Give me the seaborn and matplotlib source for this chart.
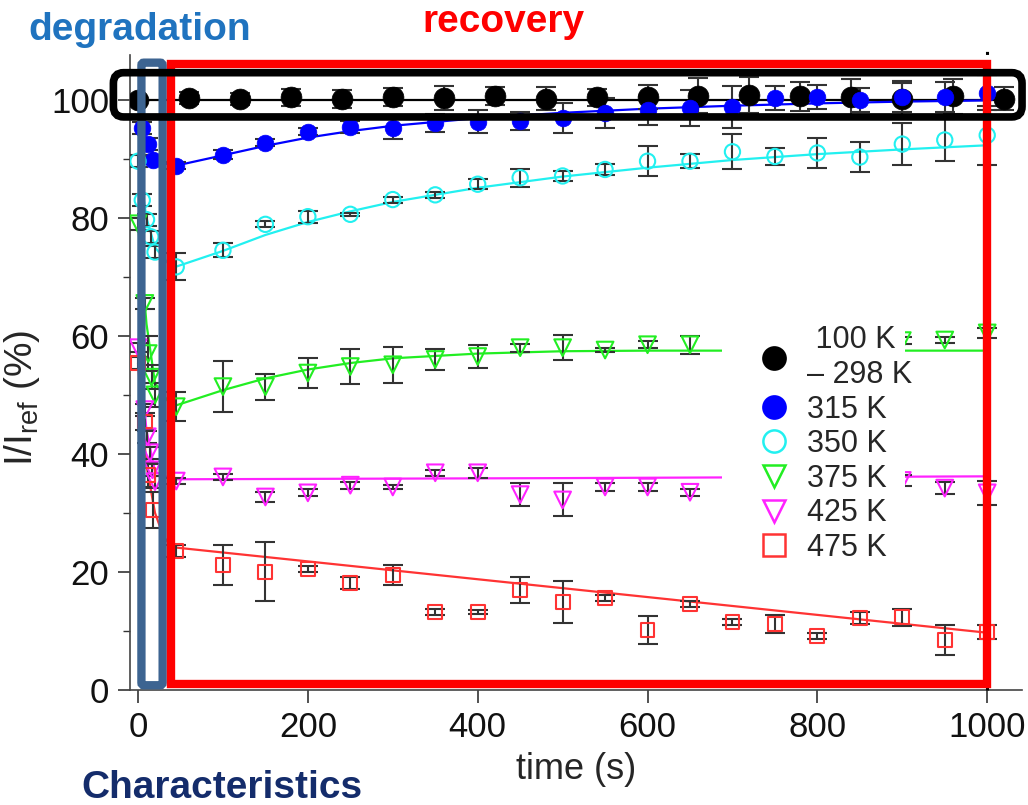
import matplotlib
matplotlib.use("Agg")
import matplotlib.pyplot as plt
import seaborn as sns
from matplotlib.lines import Line2D
from matplotlib.patches import Rectangle, FancyBboxPatch
from matplotlib.ticker import MultipleLocator

# ---- data ----------------------------------------------------------------
t_late = [100, 150, 200, 250, 300, 350, 400, 450, 500, 550,
          600, 650, 700, 750, 800, 850, 900, 950, 1000]

# 100 K - 298 K
t_black = [0, 60, 120, 180, 240, 300, 360, 420, 480, 540,
           600, 660, 720, 780, 840, 900, 960, 1020]
y_black = [100.0, 100.3, 100.2, 100.4, 100.1, 100.5, 100.3, 100.6, 100.2, 100.4,
           100.5, 100.7, 100.8, 100.6, 100.5, 100.2, 100.6, 100.2]
e_black = [0.5, 1.0, 1.0, 1.5, 1.5, 1.5, 2.0, 1.5, 2.0, 1.5,
           2.0, 3.0, 3.0, 2.5, 3.0, 3.0, 3.0, 2.0]

# 315 K
t_315 = [5, 12, 18, 45] + t_late
y_315 = [95.2, 92.5, 89.8, 88.8,
         90.7, 92.7, 94.6, 95.4, 95.3, 96.1, 96.3, 96.4, 96.9, 97.8,
         98.2, 98.6, 98.8, 100.3, 100.5, 100.0, 100.4, 100.5, 101.2]
e_315 = [1.0, 1.0, 0.6, 0.6,
         0.8, 0.6, 0.6, 1.0, 2.0, 1.5, 2.0, 1.5, 2.5, 2.5,
         2.5, 3.0, 3.5, 2.0, 2.0, 2.0, 2.5, 2.5, 3.0]

# 350 K
t_350 = [0, 5, 10, 15, 20, 45] + t_late
y_350 = [89.6, 83.0, 79.7, 76.8, 74.2, 71.7,
         74.5, 78.9, 80.2, 80.6, 83.1, 83.9, 85.7, 86.8, 87.1, 88.2,
         89.6, 89.6, 91.2, 90.4, 91.0, 90.3, 92.5, 93.2, 94.0]
e_350 = [1.0, 1.0, 1.0, 1.0, 1.0, 2.3,
         1.2, 0.5, 1.0, 0.3, 0.5, 0.5, 0.8, 1.5, 0.8, 1.0,
         2.5, 1.2, 3.0, 1.5, 2.5, 2.5, 3.5, 3.5, 5.0]

# 375 K
t_375 = [0, 8, 12, 16, 20, 45] + t_late
y_375 = [79.0, 65.5, 57.0, 53.0, 50.0, 48.0,
         51.4, 51.4, 53.7, 54.8, 55.1, 56.0, 56.5, 58.0, 58.0, 57.6,
         58.5, 58.5, 58.3, 58.5, 58.5, 58.5, 59.2, 59.3, 60.5]
e_375 = [1.0, 1.0, 3.0, 2.0, 2.0, 2.5,
         4.3, 2.2, 2.5, 2.9, 3.1, 1.7, 2.0, 0.7, 2.1, 0.3,
         0.6, 1.5, 0.8, 1.0, 1.0, 1.0, 0.6, 0.5, 0.8]

# 425 K
t_425 = [0, 8, 11, 14, 17, 20, 45] + t_late
y_425 = [58.0, 47.5, 42.9, 40.2, 37.3, 35.3, 35.4,
         36.1, 32.7, 33.4, 34.7, 34.4, 36.8, 36.8, 33.1, 32.2, 34.4,
         34.4, 33.5, 34.5, 35.0, 35.5, 35.0, 35.5, 34.2, 33.4]
e_425 = [0.8, 1.0, 1.0, 1.0, 1.0, 1.0, 0.5,
         0.5, 0.8, 0.6, 0.6, 0.3, 0.5, 0.8, 2.0, 2.8, 0.7,
         0.7, 0.6, 1.5, 1.0, 1.0, 1.0, 1.0, 1.0, 2.0]

# 475 K
t_475 = [0, 8, 12, 18, 45] + t_late
y_475 = [55.4, 45.5, 36.4, 30.5, 23.6,
         21.2, 20.0, 20.5, 18.1, 19.5, 13.2, 13.2, 16.9, 14.9, 15.6,
         10.2, 14.6, 11.5, 11.2, 9.2, 12.2, 12.3, 8.5, 9.8]
e_475 = [1.0, 1.5, 2.0, 3.0, 1.0,
         3.4, 5.0, 0.5, 1.0, 1.7, 0.5, 0.3, 2.2, 3.5, 0.5,
         2.4, 0.5, 0.5, 1.5, 0.5, 1.0, 1.5, 2.5, 1.2]

# fitted curves (read at a few times)
fit_t_black = [0, 1020]
fit_y_black = [99.9, 99.9]
fit_t_315 = [5, 15, 25, 40, 100, 150, 200, 250, 300, 400, 500, 600, 700, 800, 900, 1000]
fit_y_315 = [95.0, 91.5, 89.8, 88.7, 90.6, 92.2, 93.6, 94.7, 95.6, 96.9, 97.8, 98.5, 99.0, 99.4, 99.7, 99.9]
fit_t_350 = [0, 10, 20, 40, 100, 150, 200, 250, 300, 400, 500, 600, 700, 800, 900, 1000]
fit_y_350 = [89.6, 80.0, 75.0, 71.5, 74.4, 77.1, 79.3, 81.1, 82.7, 85.1, 87.0, 88.5, 89.8, 90.8, 91.6, 92.3]
fit_t_375 = [0, 10, 20, 40, 100, 150, 200, 250, 300, 400, 500, 600, 700, 1000]
fit_y_375 = [79.0, 62.0, 52.0, 48.0, 50.8, 52.8, 54.3, 55.4, 56.2, 57.0, 57.4, 57.5, 57.5, 57.5]
fit_t_425 = [0, 10, 20, 40, 500, 1000]
fit_y_425 = [58.0, 44.0, 37.0, 35.7, 35.9, 36.2]
fit_t_475 = [0, 10, 20, 30, 40, 1000]
fit_y_475 = [55.4, 38.0, 30.0, 26.0, 24.2, 9.7]

legend_labels = [" 100 K\n\u2013 298 K", "315 K", "350 K", "375 K", "425 K", "475 K"]

# ---- style ---------------------------------------------------------------
sns.set_theme(style="ticks")
plt.rcParams["font.family"] = ["Liberation Sans", "DejaVu Sans"]
plt.rcParams["mathtext.fontset"] = "custom"
plt.rcParams["mathtext.rm"] = "Liberation Sans"
plt.rcParams["mathtext.it"] = "Liberation Sans"

fig = plt.figure(figsize=(10.28, 8.05), dpi=100)
ax = fig.add_axes([0.1265, 0.1429, 0.8677, 0.7888])

series = [
    (t_black, y_black, e_black, fit_t_black, fit_y_black, "black", "o", True, 15),
    (t_315, y_315, e_315, fit_t_315, fit_y_315, "#0000ff", "o", True, 12),
    (t_350, y_350, e_350, fit_t_350, fit_y_350, "#22f0f0", "o", False, 11),
    (t_375, y_375, e_375, fit_t_375, fit_y_375, "#22ee22", "v", False, 12),
    (t_425, y_425, e_425, fit_t_425, fit_y_425, "#ff22ff", "v", False, 12),
    (t_475, y_475, e_475, fit_t_475, fit_y_475, "#ff3333", "s", False, 10),
]

for t, y, e, ft, fy, c, m, filled, ms in series:
    sns.lineplot(x=ft, y=fy, ax=ax, color=c, lw=1.6, zorder=2)
    ax.errorbar(t, y, yerr=e, fmt="none", ecolor="#333333", elinewidth=1.5,
                capsize=7, capthick=1.5, zorder=3)
    if filled:
        sns.scatterplot(x=t, y=y, ax=ax, marker=m, s=ms ** 2, color=c,
                        edgecolor=c, linewidth=0.5, zorder=4)
    else:
        sns.scatterplot(x=t, y=y, ax=ax, marker=m, s=ms ** 2, fc="none",
                        ec=c, linewidth=1.5, zorder=4)

ax.set_xlim(-9.4, 1041)
ax.set_ylim(0, 107.6)
ax.xaxis.set_major_locator(MultipleLocator(200))
ax.yaxis.set_major_locator(MultipleLocator(20))
ax.yaxis.set_minor_locator(MultipleLocator(10))
ax.tick_params(axis="both", which="major", labelsize=25, length=9, width=1.2,
               color="#333333", labelcolor="#111111", pad=6)
ax.tick_params(axis="y", which="minor", length=5, width=1.0, color="#333333")
sns.despine(ax=ax)
for s in ("left", "bottom"):
    ax.spines[s].set_color("#444444")
    ax.spines[s].set_linewidth(1.2)

ax.set_xlabel("time (s)", fontsize=26, labelpad=6)
ax.set_ylabel(r"I/I$_{\mathrm{ref}}$ (%)", fontsize=28)
ax.yaxis.set_label_coords(-0.099, 0.46)

# dotted marker line at 1000 s
ax.plot([1000, 1000], [0, 109.5], ls=(0, (1, 3)), color="black", lw=2.2,
        clip_on=False, zorder=5)

# annotation boxes
ax.add_patch(FancyBboxPatch((4, 0.8), 25, 105.5, boxstyle="round,pad=0,rounding_size=3",
                            fill=False, ec="#3d6491", lw=6, clip_on=False, zorder=6,
                            mutation_aspect=0.15))
ax.add_patch(Rectangle((39, 1.0), 961, 105.0, fill=False, ec="#ff0000", lw=6,
                       clip_on=False, zorder=6))
ax.add_patch(FancyBboxPatch((-29, 97.1), 1070, 7.5, boxstyle="round,pad=0,rounding_size=12",
                            fill=False, ec="black", lw=5.5, clip_on=False, zorder=7,
                            mutation_aspect=0.15))

# white backing behind the legend
ax.add_patch(Rectangle((722 / 1028, 1 - 565 / 805), 183 / 1028, 250 / 805,
                       transform=fig.transFigure, fc="white", ec="none",
                       zorder=4.5, clip_on=False))

# legend
handles = []
for t, y, e, ft, fy, c, m, filled, ms in series:
    handles.append(Line2D([], [], ls="none", marker=m, ms=16,
                          mfc=c if filled else "none", mec=c, mew=1.8))
leg = ax.legend(handles, legend_labels, loc="upper left",
                bbox_to_anchor=(734 / 1028, 1 - 304 / 805),
                bbox_transform=fig.transFigure, fontsize=22, frameon=False,
                handletextpad=0.5, labelspacing=0.15, borderpad=0.2,
                handlelength=1.2)
leg.set_zorder(5)

# text labels
fig.text(140 / 1028, 1 - 30 / 805, "degradation", color="#1f73bf", fontsize=28,
         fontweight="bold", ha="center", va="center")
fig.text(503 / 1028, 1 - 22 / 805, "recovery", color="#ff0000", fontsize=28,
         fontweight="bold", ha="center", va="center")
fig.text(222 / 1028, 1 - 788 / 805, "Characteristics", color="#142c6b", fontsize=28,
         fontweight="bold", ha="center", va="center")

fig.savefig("out.png", dpi=100)
